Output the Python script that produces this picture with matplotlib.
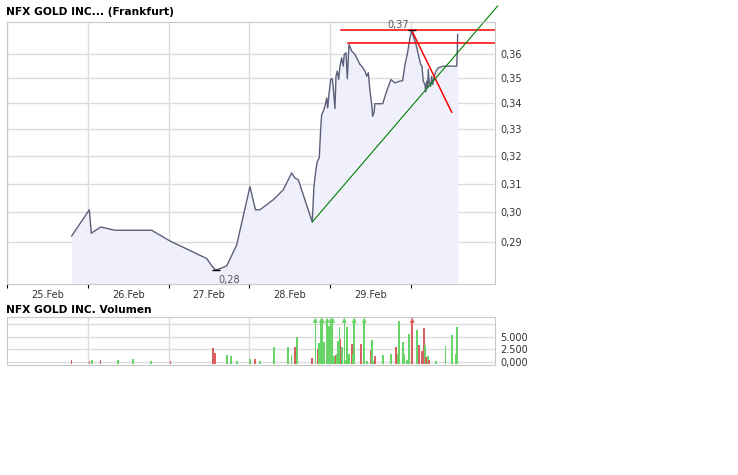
import numpy as np
import matplotlib
matplotlib.use("Agg")
import matplotlib.pyplot as plt
from matplotlib.ticker import FixedLocator, NullLocator

# price series (x in trading days since 25.Feb 00:00, price in EUR)
day_labels = ["25.Feb", "26.Feb", "27.Feb", "28.Feb", "29.Feb"]
price_x = [0.801, 1.019, 1.043, 1.160, 1.337, 1.791, 2.017, 2.472, 2.541, 2.583,
           2.636, 2.719, 2.843, 3.007, 3.075, 3.131, 3.296, 3.420, 3.523, 3.564,
           3.605, 3.778, 3.799, 3.824, 3.840, 3.865, 3.882, 3.895, 3.915, 3.936,
           3.957, 3.969, 3.985, 4.006, 4.026, 4.038, 4.059, 4.072, 4.088, 4.105,
           4.121, 4.142, 4.162, 4.174, 4.196, 4.212, 4.233, 4.266, 4.307, 4.369,
           4.390, 4.431, 4.452, 4.472, 4.493, 4.514, 4.526, 4.542, 4.554, 4.650,
           4.699, 4.752, 4.802, 4.855, 4.897, 4.926, 4.954, 4.988, 5.009, 5.028,
           5.062, 5.090, 5.120, 5.136, 5.152, 5.173, 5.182, 5.194, 5.207, 5.214,
           5.226, 5.244, 5.256, 5.269, 5.285, 5.309, 5.338, 5.400, 5.449, 5.566,
           5.573, 5.578]
price_y = [0.2920, 0.3009, 0.2929, 0.2950, 0.2939, 0.2939, 0.2903, 0.2845, 0.2819, 0.2808,
           0.2812, 0.2821, 0.2890, 0.3090, 0.3009, 0.3009, 0.3044, 0.3079, 0.3139, 0.3121,
           0.3115, 0.2967, 0.3090, 0.3151, 0.3181, 0.3194, 0.3299, 0.3357, 0.3370, 0.3389,
           0.3422, 0.3383, 0.3435, 0.3495, 0.3498, 0.3462, 0.3380, 0.3508, 0.3529, 0.3495,
           0.3549, 0.3583, 0.3549, 0.3597, 0.3604, 0.3498, 0.3639, 0.3611, 0.3597, 0.3556,
           0.3549, 0.3529, 0.3508, 0.3522, 0.3448, 0.3396, 0.3350, 0.3364, 0.3399, 0.3399,
           0.3448, 0.3495, 0.3481, 0.3488, 0.3490, 0.3556, 0.3597, 0.3667, 0.3698, 0.3674,
           0.3639, 0.3597, 0.3556, 0.3549, 0.3488, 0.3475, 0.3446, 0.3488, 0.3462, 0.3536,
           0.3481, 0.3468, 0.3508, 0.3475, 0.3504, 0.3529, 0.3542, 0.3549, 0.3549, 0.3549,
           0.3611, 0.3681]
price_ticks = [0.29, 0.30, 0.31, 0.32, 0.33, 0.34, 0.35, 0.36]

# trend lines drawn on the chart
resist_1 = (4.134, 0.3701)
resist_2 = (4.224, 0.3643)
red_down = ([5.009, 5.504], [0.3698, 0.3366])
green_up = ([3.778, 6.073], [0.2967, 0.3803])

# volume bars
vol_x = [0.796, 1.019, 1.052, 1.155, 1.377, 1.556, 1.786, 2.026, 2.553, 2.578,
         2.723, 2.772, 2.850, 3.007, 3.073, 3.135, 3.308, 3.481, 3.519, 3.568,
         3.593, 3.778, 3.816, 3.853, 3.865, 3.890, 3.902, 3.915, 3.927, 3.957,
         3.964, 3.977, 3.989, 4.010, 4.031, 4.051, 4.072, 4.084, 4.100, 4.113,
         4.130, 4.146, 4.175, 4.196, 4.212, 4.224, 4.236, 4.273, 4.286, 4.298,
         4.385, 4.422, 4.452, 4.459, 4.505, 4.521, 4.546, 4.558, 4.657, 4.756,
         4.818, 4.839, 4.855, 4.905, 4.917, 4.954, 4.979, 5.016, 5.078, 5.103,
         5.140, 5.165, 5.177, 5.189, 5.214, 5.226, 5.313, 5.425, 5.511, 5.561,
         5.573]
vol_v = [340, 100, 340, 340, 340, 540, 50, 50, 2800, 1800,
         1340, 1140, 140, 540, 540, 50, 3000, 3000, 1340, 3000,
         5000, 680, 12000, 2480, 3800, 12000, 12000, 1540, 4000, 6480,
         12000, 5000, 7140, 12000, 12000, 1140, 1340, 1540, 4140, 7000,
         4480, 3000, 12000, 340, 7000, 480, 1540, 3540, 1540, 12000,
         3540, 12000, 50, 50, 2340, 4340, 50, 1140, 1340, 1540,
         2880, 1540, 8200, 4000, 1540, 340, 5540, 12000, 6340, 3340,
         2200, 6680, 3340, 1000, 1140, 340, 50, 3140, 5340, 1540,
         7000]
vol_up = "rrgrgggrrr" "ggggrggggr" "grgrgggrgg" "grggggrggg" "rggggggrgg" "rgggrggrgg" "rggggggrgr" "rrgrgrgggg" "g"
vol_ticks = [0, 2500, 5000, 7500]
vol_labels = ["0,000", "2.500", "5.000", ""]

W, H = 738, 475
fig = plt.figure(figsize=(W / 100, H / 100), dpi=100)
grid_c = "#dcdcdc"
txt_c = "#333333"

# ---- price panel
ax = fig.add_axes([7 / W, 1 - 284 / H, 488 / W, (284 - 21.7) / H])
ax.set_yscale("log")
ax.set_xlim(0, 6.04)
ax.set_ylim(0.2763, 0.3735)
ax.fill_between(price_x, price_y, 0.2763, color="#f0f0fc", lw=0)
ax.plot(price_x, price_y, color="#5c5f7a", lw=1)

ax.yaxis.set_major_locator(FixedLocator(price_ticks))
ax.yaxis.set_minor_locator(NullLocator())
ax.set_yticklabels([f"{t:.2f}".replace(".", ",") for t in price_ticks])
ax.yaxis.tick_right()
ax.tick_params(axis="y", length=0, pad=4, labelsize=7, labelcolor=txt_c)

ax.xaxis.set_major_locator(FixedLocator(range(6)))
ax.xaxis.set_minor_locator(FixedLocator([i + 0.5 for i in range(5)]))
ax.set_xticklabels([""] * 6)
ax.set_xticklabels(day_labels, minor=True)
ax.tick_params(axis="x", which="major", length=3, color="black", direction="out")
ax.tick_params(axis="x", which="minor", length=0, pad=4, labelsize=7, labelcolor=txt_c)
ax.grid(True, which="major", color=grid_c, lw=1)
ax.set_axisbelow(True)
for s in ax.spines.values():
    s.set_color("#c8c8c8")

ax.plot([resist_1[0], 6.04], [resist_1[1]] * 2, color="red", lw=1.1)
ax.plot([resist_2[0], 6.04], [resist_2[1]] * 2, color="red", lw=1.1)
ax.plot(*red_down, color="red", lw=1.1)
ax.plot(*green_up, color="green", lw=0.8, clip_on=False)

i_max = int(np.argmax(price_y))
i_min = int(np.argmin(price_y))
ax.plot(price_x[i_max], price_y[i_max], marker="_", color="black", ms=6, mew=1)
ax.plot(price_x[i_min], price_y[i_min], marker="_", color="black", ms=6, mew=1)
ax.text(price_x[i_max] - 0.03, price_y[i_max], f"{price_y[i_max]:.2f}".replace(".", ","),
        ha="right", va="bottom", fontsize=7, color="#555555")
ax.text(price_x[i_min] + 0.03, price_y[i_min] * 0.994, f"{price_y[i_min]:.2f}".replace(".", ","),
        ha="left", va="top", fontsize=7, color="#555555")

fig.text(6 / W, 1 - 12 / H, "NFX GOLD INC... (Frankfurt)", fontsize=7.7, fontweight="bold",
         va="center", ha="left")

# ---- volume panel
vx = fig.add_axes([7 / W, 1 - 365 / H, 488 / W, (365 - 317.3) / H])
vx.set_xlim(0, 6.04)
vx.set_ylim(-660, 8880)
cap = 8300
vals = np.array(vol_v)
shown = np.minimum(vals, cap)
cols = ["#66d466" if c == "g" else "#d96060" for c in vol_up]
vx.bar(vol_x, shown + 450, bottom=-450, width=0.02, color=cols, lw=0)
big = vals > cap
vx.scatter(np.array(vol_x)[big], shown[big], marker="^", s=14,
           c=np.array(cols)[big], lw=0, zorder=3)

vx.yaxis.set_major_locator(FixedLocator(vol_ticks))
vx.set_yticklabels(vol_labels)
vx.yaxis.tick_right()
vx.tick_params(axis="y", length=0, pad=4, labelsize=7, labelcolor=txt_c)
vx.xaxis.set_major_locator(FixedLocator(range(1, 6)))
vx.tick_params(axis="x", length=0, labelbottom=False)
vx.grid(True, color=grid_c, lw=1)
vx.set_axisbelow(True)
for s in vx.spines.values():
    s.set_color("#c8c8c8")

fig.text(6 / W, 1 - 310 / H, "NFX GOLD INC. Volumen", fontsize=7.7, fontweight="bold",
         va="center", ha="left")

fig.savefig("out.png", dpi=100)
